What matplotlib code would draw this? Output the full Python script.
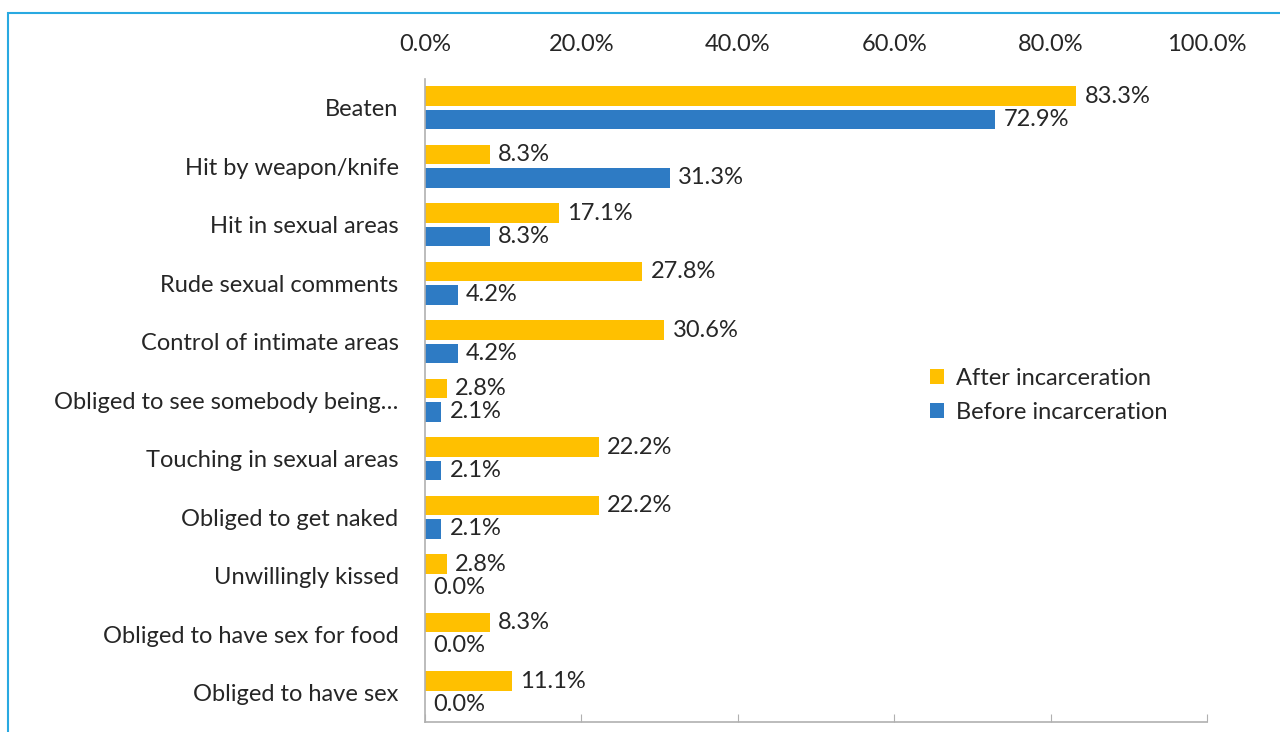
import numpy as np
import matplotlib.pyplot as plt
from matplotlib.patches import Rectangle
from matplotlib.ticker import PercentFormatter

plt.rcParams['font.family'] = ['Lato', 'DejaVu Sans']

categories = ['Beaten', 'Hit by weapon/knife', 'Hit in sexual areas',
              'Rude sexual comments', 'Control of intimate areas',
              'Obliged to see somebody being…', 'Touching in sexual areas',
              'Obliged to get naked', 'Unwillingly kissed',
              'Obliged to have sex for food', 'Obliged to have sex']
after = [83.3, 8.3, 17.1, 27.8, 30.6, 2.8, 22.2, 22.2, 2.8, 8.3, 11.1]
before = [72.9, 31.3, 8.3, 4.2, 4.2, 2.1, 2.1, 2.1, 0.0, 0.0, 0.0]

yellow = '#FFC000'
blue = '#2E7BC4'
text_col = '#262626'
fs = 17

fig = plt.figure(figsize=(12.8, 7.32), dpi=100)
ax = fig.add_axes([0.332, 0.0137, 0.611, 0.879])

y = np.arange(len(categories))
h = 0.33
b1 = ax.barh(y - 0.2, after, height=h, color=yellow, label='After incarceration')
b2 = ax.barh(y + 0.2, before, height=h, color=blue, label='Before incarceration')

for bars, vals in ((b1, after), (b2, before)):
    for bar, v in zip(bars, vals):
        ax.annotate(f'{v:.1f}%', (v, bar.get_y() + bar.get_height() / 2),
                    xytext=(6, 0), textcoords='offset points',
                    va='center', ha='left', fontsize=fs, color=text_col)

ax.set_xlim(0, 100)
ax.set_ylim(len(categories) - 0.5, -0.5)
ax.set_yticks(y)
ax.set_yticklabels(categories, fontsize=fs, color=text_col)
ax.set_xticks(np.arange(0, 101, 20))
ax.xaxis.set_major_formatter(PercentFormatter(decimals=1))
ax.tick_params(axis='x', top=False, bottom=True, labeltop=True, labelbottom=False,
               direction='in', length=6, color='#B0B0B0', labelsize=fs,
               labelcolor=text_col, pad=17)
ax.tick_params(axis='y', length=0, pad=19)

for s in ('top', 'right'):
    ax.spines[s].set_visible(False)
for s in ('left', 'bottom'):
    ax.spines[s].set_color('#B0B0B0')
    ax.spines[s].set_linewidth(1.2)

ax.legend(loc='center left', bbox_to_anchor=(0.646, 0.508), frameon=False,
          fontsize=fs, handlelength=0.6, handleheight=0.6, handletextpad=0.5,
          labelspacing=0.55, borderpad=0, borderaxespad=0, labelcolor=text_col)

# light blue frame around the figure panel
fig.add_artist(Rectangle((8 / 1280, -0.05), 1.1, (732 - 13) / 732 + 0.05,
                         transform=fig.transFigure, fill=False,
                         edgecolor='#29A9E1', linewidth=1.5))

fig.savefig('out.png', dpi=100)
